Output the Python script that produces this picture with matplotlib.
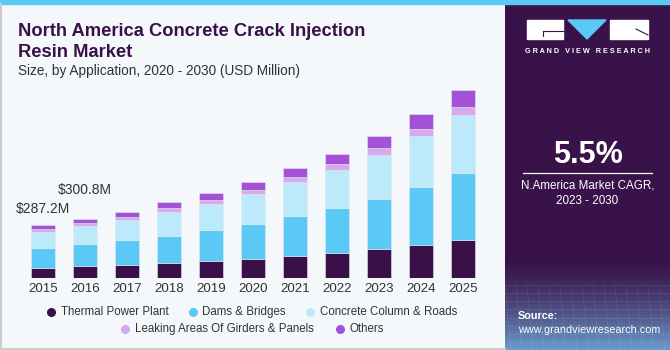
import matplotlib.pyplot as plt
import matplotlib.patches as mpatches
from matplotlib.lines import Line2D
import numpy as np

# data (USD Million)
years = ['2015', '2016', '2017', '2018', '2019', '2020', '2021', '2022', '2023', '2024', '2025']
thermal = [57, 65, 74, 83, 94, 105, 121, 137, 157, 180, 206]
dams = [108, 122, 135, 148, 170, 190, 217, 244, 273, 313, 365]
column_roads = [87, 96, 108, 130, 141, 161, 184, 208, 240, 278, 316]
girders = [13, 16, 16, 18, 20, 23, 27, 29, 35, 38, 42]
others = [22, 25, 27, 33, 38, 42, 47, 54, 67, 80, 90]
series_names = ['Thermal Power Plant', 'Dams & Bridges', 'Concrete Column & Roads',
                'Leaking Areas Of Girders & Panels', 'Others']
colors = ['#3a1049', '#5bc9f6', '#bdeafa', '#d5aaee', '#a352d8']
labels_2015_2016 = ['$287.2M', '$300.8M']

W, H = 670, 350
bg = '#f4f8fb'
panel = '#381248'
text_dark = '#333333'

def fx(px):
    return px / W

def fy(py):
    return 1 - py / H

fig = plt.figure(figsize=(6.7, 3.5), dpi=100, facecolor=bg)

# main bar axes
ax = fig.add_axes([fx(10), fy(278.3), fx(495) - fx(10), fy(80) - fy(278.3)])
ax.set_facecolor(bg)
x = np.arange(len(years))
bottom = np.zeros(len(years))
for vals, c in zip([thermal, dams, column_roads, girders, others], colors):
    ax.bar(x, vals, width=0.57, bottom=bottom, color=c, edgecolor='#e6e6ee', linewidth=0.4)
    bottom += np.array(vals)
ax.set_xlim(-0.786, 10.762)
ax.set_ylim(0, 198.3 * 5.42)
ax.set_xticks(x)
ax.set_xticklabels(years, fontsize=9.6, color=text_dark, family='Liberation Sans')
ax.tick_params(axis='x', length=0, pad=3.5)
ax.set_yticks([])
for s in ax.spines.values():
    s.set_visible(False)

ax.annotate(labels_2015_2016[0], (0, bottom[0]), xytext=(0, 12), textcoords='offset points',
            ha='center', va='center', fontsize=10, color=text_dark, family='Liberation Sans')
ax.annotate(labels_2015_2016[1], (1, bottom[1]), xytext=(0, 20.5), textcoords='offset points',
            ha='center', va='center', fontsize=10, color=text_dark, family='Liberation Sans')

# titles
title_font = ['Liberation Sans Narrow', 'Liberation Sans']
fig.text(fx(18), fy(36), 'North America Concrete Crack Injection', fontsize=13.2,
         fontweight='bold', color='#3a1049', family=title_font, va='baseline', ha='left')
fig.text(fx(18), fy(57), 'Resin Market', fontsize=13.2,
         fontweight='bold', color='#3a1049', family=title_font, va='baseline', ha='left')
fig.text(fx(18), fy(71), 'Size, by Application, 2020 - 2030 (USD Million)', fontsize=9.8,
         color=text_dark, family='Liberation Sans', va='center', ha='left')

# legend, drawn by hand in two centred rows
rows = [
    [(51, 61, 0), (193, 202, 1), (310, 320, 2)],
    [(125, 135, 3), (340, 349, 4)],
]
for ry, row in zip([312.3, 328.7], rows):
    for dot_x, txt_x, i in row:
        fig.add_artist(Line2D([fx(dot_x)], [fy(ry)], marker='o', markersize=5.5, color=colors[i],
                              linestyle='none', transform=fig.transFigure))
        fig.text(fx(txt_x), fy(ry), series_names[i], fontsize=8.3, color=text_dark,
                 family='Liberation Sans', va='center', ha='left')

# right panel
pax = fig.add_axes([fx(505), 0, 1 - fx(505), fy(4)])
pax.set_xlim(505, 670)
pax.set_ylim(350, 4)
pax.axis('off')
grad = np.linspace(0, 1, 100)[:, None]
c0 = np.array([0x38, 0x12, 0x48]) / 255
c1 = np.array([0x6a, 0x9c, 0xcc]) / 255
img = np.ones((100, 2, 3))
for k in range(3):
    img[:, :, k] = c0[k] + (c1[k] - c0[k]) * grad ** 1.5
pax.add_patch(mpatches.Rectangle((505, 4), 165, 346, color=panel, zorder=0))
pax.imshow(img, extent=(505, 670, 350, 255), aspect='auto', zorder=1)
for gy in np.linspace(285, 350, 9):
    pax.plot([505, 670], [gy, gy], color='white', alpha=0.12, lw=0.5, zorder=2)
for gx in np.linspace(505, 670, 16):
    pax.plot([gx, gx + 6], [285, 350], color='white', alpha=0.10, lw=0.5, zorder=2)

# logo
pax.add_patch(mpatches.Rectangle((527, 20), 36, 19, color='white', zorder=3))
pax.add_patch(mpatches.Polygon([(568, 20), (606, 20), (587, 39)], color='#5bc9f6', zorder=3))
pax.add_patch(mpatches.Rectangle((610, 20), 38, 19, color='white', zorder=3))
pax.plot([543, 563], [31, 31], color=panel, lw=0.8, zorder=4)
pax.plot([543, 543], [31, 36], color=panel, lw=0.8, zorder=4)
pax.plot([636, 648], [29, 35], color=panel, lw=0.8, zorder=4)
pax.text(587.5, 51, 'G R A N D   V I E W   R E S E A R C H', color='white', fontsize=5.2,
         fontweight='bold', ha='center', va='center', family='Liberation Sans')

pax.text(587.5, 155, '5.5%', color='white', fontsize=22, fontweight='bold',
         ha='center', va='center', family='Liberation Sans', zorder=3)
pax.plot([522.5, 652], [173, 173], color='white', lw=0.9, zorder=3)
pax.text(587.5, 185, 'N.America Market CAGR,', color='white', fontsize=8.4,
         ha='center', va='center', family='Liberation Sans', zorder=3)
pax.text(587.5, 201, '2023 - 2030', color='white', fontsize=8.4,
         ha='center', va='center', family='Liberation Sans', zorder=3)
pax.text(518, 316, 'Source:', color='white', fontsize=7.8, fontweight='bold',
         ha='left', va='center', family='Liberation Sans', zorder=3)
pax.text(518, 330, 'www.grandviewresearch.com', color='white', fontsize=7.8,
         ha='left', va='center', family='Liberation Sans', zorder=3)

# top accent strip and borders
fig.add_artist(mpatches.Rectangle((0, fy(4)), 1, 4 / H, color='#5bc9f6',
                                  transform=fig.transFigure))
fig.add_artist(Line2D([fx(1), fx(1)], [0, fy(4)], color='#cccccc', lw=1.5, transform=fig.transFigure))
fig.add_artist(Line2D([0, fx(505)], [fy(349), fy(349)], color='#cccccc', lw=1.5, transform=fig.transFigure))

fig.savefig('out.png', dpi=100, facecolor=bg)
